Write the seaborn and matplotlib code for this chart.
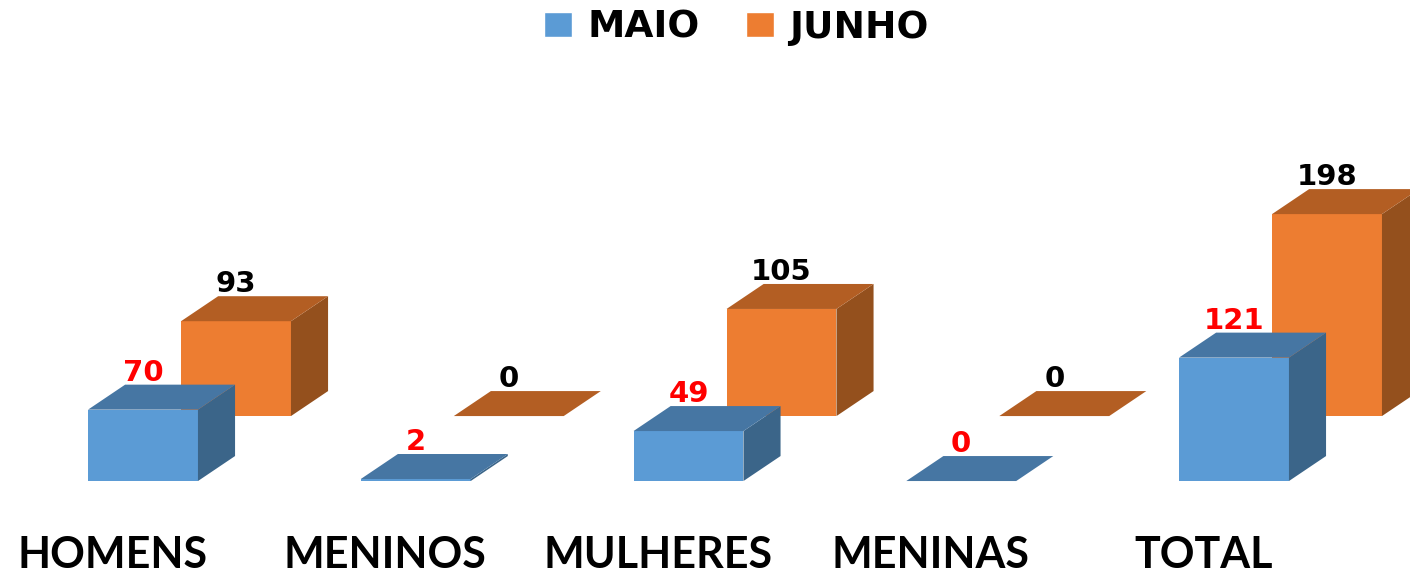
import matplotlib
matplotlib.use("Agg")
import matplotlib.pyplot as plt
from matplotlib.patches import Polygon, Patch
import numpy as np
import pandas as pd
import seaborn as sns

sns.set_style("white")

categories = ["HOMENS", "MENINOS", "MULHERES", "MENINAS", "TOTAL"]
maio = [70, 2, 49, 0, 121]
junho = [93, 0, 105, 0, 198]

BLUE = ["#5B9BD5", "#4676A3", "#3B6589"]     # front, top, side
ORANGE = ["#ED7D31", "#B35E23", "#94501D"]

# fake 3d geometry, in data units
bar_w = 0.403
row_dx, row_dy = 0.341, 63.7     # JUNHO row sits behind the MAIO row
dep_dx, dep_dy = 0.136, 24.5     # depth of each box


def add_depth(ax, bars, colors, z):
    for b in bars:
        x0, y0 = b.get_x(), b.get_y()
        x1, y1 = x0 + b.get_width(), y0 + b.get_height()
        top = [(x0, y1), (x1, y1), (x1 + dep_dx, y1 + dep_dy), (x0 + dep_dx, y1 + dep_dy)]
        side = [(x1, y0), (x1 + dep_dx, y0 + dep_dy), (x1 + dep_dx, y1 + dep_dy), (x1, y1)]
        ax.add_patch(Polygon(side, closed=True, fc=colors[2], lw=0, zorder=z))
        ax.add_patch(Polygon(top, closed=True, fc=colors[1], lw=0, zorder=z))
        b.set_zorder(z)


def main():
    df = pd.DataFrame({"categoria": categories, "MAIO": maio, "JUNHO": junho})
    df["pos"] = np.arange(len(df))
    df["pos_back"] = df["pos"] + row_dx

    fig = plt.figure(figsize=(14.1, 5.76), dpi=100)
    ax = fig.add_axes([0, 0, 1, 1])

    sns.barplot(data=df, x="pos_back", y="JUNHO", native_scale=True, width=bar_w,
                color=ORANGE[0], saturation=1, linewidth=0, bottom=row_dy,
                errorbar=None, ax=ax)
    orange_bars = list(ax.patches)
    sns.barplot(data=df, x="pos", y="MAIO", native_scale=True, width=bar_w,
                color=BLUE[0], saturation=1, linewidth=0, errorbar=None, ax=ax)
    blue_bars = list(ax.patches)[len(orange_bars):]

    add_depth(ax, orange_bars, ORANGE, 1)
    add_depth(ax, blue_bars, BLUE, 2)

    for b, v in zip(orange_bars, junho):
        ax.text(b.get_x() + b.get_width() / 2, b.get_y() + b.get_height() + dep_dy + 4,
                str(v), ha="center", va="baseline", color="black",
                fontsize=21, fontweight="bold", family="DejaVu Sans", zorder=5)
    for b, v in zip(blue_bars, maio):
        ax.text(b.get_x() + b.get_width() / 2, b.get_y() + b.get_height() + dep_dy + 4,
                str(v), ha="center", va="baseline", color="#FF0000",
                fontsize=21, fontweight="bold", family="DejaVu Sans", zorder=5)

    for i, cat in enumerate(categories):
        ax.text(i - 0.113, -92, cat, ha="center", va="bottom", color="black",
                fontsize=31, fontweight="bold", family="Lato")

    ax.set_xlim(-0.5243, 4.6453)
    ax.set_ylim(-93.1, 471.6)
    ax.axis("off")

    handles = [Patch(fc=BLUE[0], label="MAIO"), Patch(fc=ORANGE[0], label="JUNHO")]
    leg = fig.legend(handles=handles, loc="upper center", bbox_to_anchor=(0.5223, 1 - 10 / 576),
                     ncol=2, frameon=False,
                     prop={"family": "DejaVu Sans", "weight": "bold", "size": 27},
                     handlelength=0.75, handleheight=0.64, handletextpad=0.4,
                     columnspacing=1.25, borderpad=0, borderaxespad=0)
    for t in leg.get_texts():
        t.set_color("black")

    fig.savefig("out.png", dpi=100)


if __name__ == "__main__":
    main()
